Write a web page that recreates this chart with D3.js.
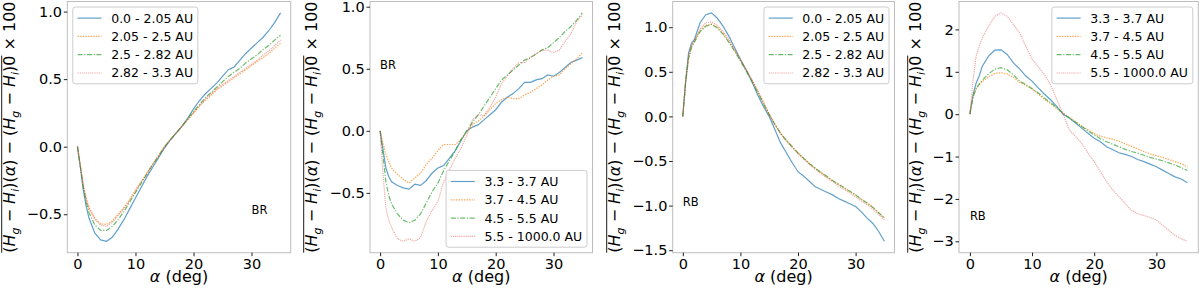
<!DOCTYPE html>
<html>
<head>
<meta charset="utf-8">
<script src="https://cdn.jsdelivr.net/npm/d3@7"></script>
<style>
  body { margin: 0; background: #fff; }
  svg { display: block; }
  text { font-family: "DejaVu Sans", sans-serif; fill: #000; }
</style>
</head>
<body>
<svg id="chart" width="1200" height="293"></svg>
<script>
// --- Data ---
const alpha = [0, 0.5, 1, 1.5, 2, 3, 4, 5, 6, 7, 8, 9, 10, 11, 12, 13, 14, 15, 16, 17, 18, 19, 20,
               21, 22, 23, 24, 25, 26, 27, 28, 29, 30, 31, 32, 33, 34, 35];

const innerBins = ["0.0 - 2.05 AU", "2.05 - 2.5 AU", "2.5 - 2.82 AU", "2.82 - 3.3 AU"];
const outerBins = ["3.3 - 3.7 AU", "3.7 - 4.5 AU", "4.5 - 5.5 AU", "5.5 - 1000.0 AU"];

// BR, inner bins
const brIn1 = [0, -0.15, -0.32, -0.44, -0.53, -0.64, -0.69, -0.70, -0.67, -0.61, -0.54, -0.46, -0.38, -0.30, -0.22, -0.15, -0.08, -0.01, 0.05, 0.10, 0.15, 0.21, 0.28, 0.34, 0.39, 0.43, 0.47, 0.52, 0.57, 0.59, 0.64, 0.69, 0.73, 0.77, 0.81, 0.86, 0.92, 0.99];
const brIn2 = [0, -0.14, -0.28, -0.38, -0.45, -0.53, -0.57, -0.575, -0.55, -0.50, -0.45, -0.39, -0.32, -0.26, -0.19, -0.13, -0.06, 0.0, 0.05, 0.10, 0.15, 0.20, 0.25, 0.30, 0.34, 0.38, 0.42, 0.45, 0.48, 0.51, 0.54, 0.57, 0.60, 0.63, 0.66, 0.69, 0.73, 0.765];
const brIn3 = [0, -0.15, -0.30, -0.41, -0.49, -0.58, -0.62, -0.62, -0.59, -0.54, -0.48, -0.41, -0.34, -0.27, -0.20, -0.13, -0.07, 0.0, 0.05, 0.10, 0.15, 0.21, 0.26, 0.31, 0.36, 0.40, 0.44, 0.48, 0.52, 0.55, 0.58, 0.62, 0.65, 0.68, 0.72, 0.75, 0.79, 0.825];
const brIn4 = [0, -0.14, -0.29, -0.39, -0.46, -0.54, -0.58, -0.59, -0.56, -0.51, -0.46, -0.40, -0.33, -0.26, -0.20, -0.13, -0.07, 0.0, 0.05, 0.10, 0.15, 0.20, 0.25, 0.30, 0.35, 0.39, 0.43, 0.46, 0.49, 0.52, 0.55, 0.58, 0.61, 0.64, 0.68, 0.71, 0.75, 0.79];

// BR, outer bins
const brOut1 = [0, -0.15, -0.30, -0.37, -0.41, -0.44, -0.46, -0.47, -0.43, -0.44, -0.40, -0.34, -0.30, -0.28, -0.22, -0.16, -0.08, 0.0, 0.03, 0.05, 0.09, 0.13, 0.17, 0.23, 0.27, 0.30, 0.34, 0.39, 0.39, 0.41, 0.42, 0.45, 0.44, 0.47, 0.51, 0.55, 0.57, 0.59];
const brOut2 = [0, -0.10, -0.19, -0.25, -0.30, -0.35, -0.39, -0.42, -0.38, -0.34, -0.27, -0.22, -0.16, -0.11, -0.11, -0.11, -0.07, -0.01, 0.05, 0.08, 0.12, 0.17, 0.22, 0.25, 0.27, 0.26, 0.26, 0.29, 0.31, 0.34, 0.37, 0.41, 0.44, 0.45, 0.50, 0.54, 0.58, 0.63];
const brOut3 = [0, -0.20, -0.41, -0.52, -0.59, -0.67, -0.72, -0.74, -0.72, -0.67, -0.58, -0.49, -0.42, -0.32, -0.24, -0.16, -0.07, 0.0, 0.07, 0.13, 0.20, 0.27, 0.34, 0.41, 0.45, 0.49, 0.53, 0.57, 0.59, 0.62, 0.65, 0.67, 0.71, 0.75, 0.80, 0.84, 0.89, 0.95];
const brOut4 = [0, -0.35, -0.62, -0.72, -0.78, -0.87, -0.89, -0.87, -0.89, -0.86, -0.73, -0.64, -0.57, -0.41, -0.32, -0.22, -0.14, -0.04, 0.09, 0.13, 0.12, 0.19, 0.27, 0.38, 0.44, 0.50, 0.55, 0.55, 0.59, 0.62, 0.65, 0.65, 0.63, 0.65, 0.72, 0.78, 0.88, 0.93];

// RB, inner bins
const rbIn1 = [0, 0.40, 0.71, 0.82, 0.86, 1.05, 1.14, 1.16, 1.10, 1.01, 0.90, 0.77, 0.64, 0.52, 0.39, 0.24, 0.11, 0.0, -0.15, -0.30, -0.41, -0.52, -0.62, -0.67, -0.73, -0.79, -0.82, -0.85, -0.88, -0.92, -0.95, -0.98, -1.01, -1.07, -1.14, -1.20, -1.29, -1.40];
const rbIn2 = [0, 0.38, 0.65, 0.78, 0.84, 0.96, 1.02, 1.035, 1.00, 0.93, 0.84, 0.74, 0.63, 0.52, 0.41, 0.29, 0.16, 0.03, -0.09, -0.19, -0.27, -0.34, -0.41, -0.47, -0.53, -0.58, -0.63, -0.68, -0.72, -0.76, -0.80, -0.84, -0.88, -0.93, -0.97, -1.02, -1.08, -1.14];
const rbIn3 = [0, 0.38, 0.65, 0.77, 0.83, 0.95, 1.01, 1.03, 0.99, 0.92, 0.83, 0.73, 0.62, 0.51, 0.39, 0.27, 0.14, 0.02, -0.09, -0.19, -0.27, -0.34, -0.41, -0.47, -0.53, -0.58, -0.63, -0.67, -0.72, -0.76, -0.80, -0.84, -0.88, -0.93, -0.97, -1.02, -1.08, -1.14];
const rbIn4 = [0, 0.39, 0.67, 0.79, 0.85, 0.98, 1.05, 1.06, 1.02, 0.95, 0.86, 0.75, 0.64, 0.53, 0.41, 0.28, 0.15, 0.02, -0.10, -0.20, -0.28, -0.35, -0.42, -0.48, -0.54, -0.59, -0.64, -0.69, -0.73, -0.78, -0.82, -0.86, -0.90, -0.95, -0.99, -1.04, -1.10, -1.16];

// RB, outer bins
const rbOut1 = [0, 0.45, 0.73, 0.90, 1.13, 1.37, 1.51, 1.52, 1.41, 1.21, 1.07, 0.90, 0.78, 0.62, 0.47, 0.34, 0.18, 0.0, -0.09, -0.21, -0.33, -0.45, -0.57, -0.65, -0.77, -0.84, -0.91, -0.95, -1.00, -1.07, -1.12, -1.18, -1.24, -1.32, -1.40, -1.48, -1.53, -1.62];
const rbOut2 = [0, 0.40, 0.60, 0.70, 0.77, 0.88, 0.96, 0.98, 0.95, 0.87, 0.75, 0.68, 0.60, 0.48, 0.35, 0.25, 0.13, 0.02, -0.08, -0.18, -0.28, -0.37, -0.46, -0.52, -0.56, -0.59, -0.64, -0.70, -0.76, -0.82, -0.88, -0.94, -0.98, -1.02, -1.07, -1.12, -1.17, -1.24];
const rbOut3 = [0, 0.40, 0.60, 0.71, 0.80, 0.95, 1.06, 1.10, 1.05, 0.93, 0.78, 0.70, 0.60, 0.50, 0.38, 0.27, 0.15, 0.02, -0.09, -0.19, -0.29, -0.39, -0.49, -0.58, -0.65, -0.71, -0.77, -0.83, -0.88, -0.92, -0.97, -1.02, -1.06, -1.10, -1.15, -1.20, -1.26, -1.33];
const rbOut4 = [0, 0.80, 1.37, 1.60, 1.80, 2.07, 2.31, 2.39, 2.31, 2.12, 1.92, 1.60, 1.30, 1.12, 0.93, 0.69, 0.34, 0.0, -0.37, -0.53, -0.69, -0.92, -1.12, -1.36, -1.59, -1.79, -1.95, -2.11, -2.27, -2.35, -2.39, -2.44, -2.50, -2.62, -2.74, -2.86, -2.94, -3.00];

const xTicks = [0, 10, 20, 30];
const yTicksBR = [-0.5, 0.0, 0.5, 1.0];
const yTicksRBInner = [-1.5, -1.0, -0.5, 0.0, 0.5, 1.0];
const yTicksRBOuter = [-3, -2, -1, 0, 1, 2];

// --- Styles ---
const colors = ["#1f77b4", "#ff7f0e", "#2ca02c", "#d62728"];
const opacities = [0.7, 0.7, 0.7, 0.4];
const dashes = [null, "1.4,1.2", "5,1.6,1.2,1.6", "1.2,0.9"];

// frame placement of each panel (pixels)
const panels = [
  {left: 67.3, right: 290.7, labelX: 15, bins: innerBins, series: [brIn1, brIn2, brIn3, brIn4],
   yTicks: yTicksBR, fmt: ".1f", legend: "upper left", note: "BR", notePos: [30, -0.5]},
  {left: 370, right: 592.5, labelX: 317, bins: outerBins, series: [brOut1, brOut2, brOut3, brOut4],
   yTicks: yTicksBR, fmt: ".1f", legend: "lower right", note: "BR", notePos: [0, 0.5]},
  {left: 672.7, right: 894.5, labelX: 620, bins: innerBins, series: [rbIn1, rbIn2, rbIn3, rbIn4],
   yTicks: yTicksRBInner, fmt: ".1f", legend: "upper right", note: "RB", notePos: [0, -1.0]},
  {left: 959, right: 1198.3, labelX: 921, bins: outerBins, series: [rbOut1, rbOut2, rbOut3, rbOut4],
   yTicks: yTicksRBOuter, fmt: "d", legend: "upper right", note: "RB", notePos: [0, -2.5]}
];
const frameTop = 1.5, frameBottom = 252.7;

const svg = d3.select("#chart");

panels.forEach(p => {
  const g = svg.append("g");

  const x = d3.scaleLinear().domain([-1.75, 36.75]).range([p.left, p.right]);
  const all = p.series.flat();
  const lo = d3.min(all), hi = d3.max(all), m = (hi - lo) * 0.05;
  const y = d3.scaleLinear().domain([lo - m, hi + m]).range([frameBottom, frameTop]);

  // --- Lines ---
  const line = d3.line().x((d, i) => x(alpha[i])).y(d => y(d));
  p.series.forEach((s, k) => {
    g.append("path")
      .datum(s)
      .attr("d", line)
      .attr("fill", "none")
      .attr("stroke", colors[k])
      .attr("stroke-opacity", opacities[k])
      .attr("stroke-width", 1.2)
      .attr("stroke-dasharray", dashes[k]);
  });

  // --- Frame ---
  g.append("rect")
    .attr("x", p.left).attr("y", frameTop)
    .attr("width", p.right - p.left).attr("height", frameBottom - frameTop)
    .attr("fill", "none").attr("stroke", "#bdbdbd").attr("stroke-width", 1);

  // --- Axes ---
  const xAxis = g.append("g").attr("transform", `translate(0,${frameBottom})`)
    .call(d3.axisBottom(x).tickValues(xTicks).tickSize(3.5).tickPadding(2.5).tickSizeOuter(0));
  const yAxis = g.append("g").attr("transform", `translate(${p.left},0)`)
    .call(d3.axisLeft(y).tickValues(p.yTicks).tickFormat(d3.format(p.fmt)).tickSize(3.5).tickPadding(1.8).tickSizeOuter(0));
  [xAxis, yAxis].forEach(a => {
    a.select(".domain").remove();
    a.selectAll("line").attr("stroke", "#222");
    a.selectAll("text").attr("font-size", 14.5).attr("font-family", "DejaVu Sans");
  });

  // x label
  const xl = g.append("text")
    .attr("x", (p.left + p.right) / 2).attr("y", 282)
    .attr("text-anchor", "middle").attr("font-size", 16);
  xl.append("tspan").attr("font-style", "italic").text("α");
  xl.append("tspan").text(" (deg)");

  // y label: overline over (Hg − Hi)(α) − (Hg − Hi)0, then × 100
  const cy = (frameTop + frameBottom) / 2;
  const yl = g.append("g").attr("transform", `translate(${p.labelX},${cy}) rotate(-90)`);
  const over = yl.append("text").attr("font-size", 16);
  const parts = [["(", ""], ["H", "it"], ["g", "sub"], [" − ", ""], ["H", "it"], ["i", "sub"],
                 [")(", ""], ["α", "it"], [") − (", ""], ["H", "it"], ["g", "sub"], [" − ", ""],
                 ["H", "it"], ["i", "sub"], [")0", ""]];
  let shifted = false;
  parts.forEach(([t, kind]) => {
    const ts = over.append("tspan").text(t).attr("xml:space", "preserve");
    if (kind === "sub") {
      ts.attr("font-size", 11).attr("font-style", "italic").attr("dy", shifted ? 0 : 4);
      shifted = true;
    } else {
      if (shifted) { ts.attr("dy", -4); shifted = false; }
      if (kind === "it") ts.attr("font-style", "italic");
    }
  });
  const tail = yl.append("text").attr("font-size", 16).attr("xml:space", "preserve").text(" × 100");
  const wOver = over.node().getComputedTextLength();
  const wTail = tail.node().getComputedTextLength();
  const x0 = -(wOver + wTail) / 2;
  over.attr("x", x0);
  tail.attr("x", x0 + wOver);
  yl.append("line")
    .attr("x1", x0).attr("x2", x0 + wOver)
    .attr("y1", -13.3).attr("y2", -13.3)
    .attr("stroke", "#000").attr("stroke-width", 0.9);

  // note text (BR / RB)
  g.append("text")
    .attr("x", x(p.notePos[0])).attr("y", y(p.notePos[1]))
    .attr("font-size", 11.5).text(p.note);

  // --- Legend ---
  const fs = 12.5, pad = 4.8, rowH = 18.3, handle = 24, gap = 9.6, axPad = 5.5;
  const lg = g.append("g");
  const box = lg.append("rect");
  const texts = p.bins.map(b => lg.append("text").attr("font-size", fs).text(b));
  const tw = d3.max(texts, t => t.node().getComputedTextLength());
  const lw = pad + handle + gap + tw + pad;
  const lh = pad * 2 + rowH * 4 - 6;
  const lx = p.legend.includes("left") ? p.left + axPad : p.right - axPad - lw;
  const ly = p.legend.includes("upper") ? frameTop + axPad : frameBottom - axPad - lh;
  box.attr("x", lx).attr("y", ly).attr("width", lw).attr("height", lh)
    .attr("rx", 2.5).attr("fill", "#fff").attr("fill-opacity", 0.8)
    .attr("stroke", "#cccccc").attr("stroke-width", 1);
  p.bins.forEach((b, k) => {
    const ry = ly + pad + 6.3 + k * rowH;
    lg.append("line")
      .attr("x1", lx + pad).attr("x2", lx + pad + handle)
      .attr("y1", ry).attr("y2", ry)
      .attr("stroke", colors[k]).attr("stroke-opacity", opacities[k])
      .attr("stroke-width", 1.2).attr("stroke-dasharray", dashes[k]);
    texts[k].attr("x", lx + pad + handle + gap).attr("y", ry + 4.4);
  });
});
</script>
</body>
</html>
